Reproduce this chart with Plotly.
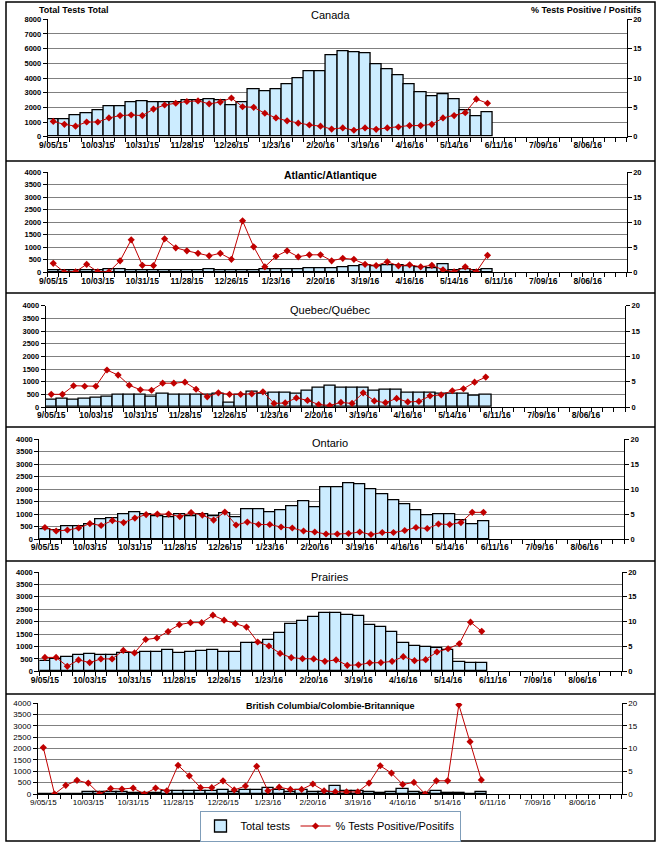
import plotly.graph_objects as go

W, H = 665, 848

weeks = ["9/05/15", "9/12/15", "9/19/15", "9/26/15", "10/03/15", "10/10/15", "10/17/15",
         "10/24/15", "10/31/15", "11/07/15", "11/14/15", "11/21/15", "11/28/15", "12/05/15",
         "12/12/15", "12/19/15", "12/26/15", "1/02/16", "1/09/16", "1/16/16", "1/23/16",
         "1/30/16", "2/06/16", "2/13/16", "2/20/16", "2/27/16", "3/05/16", "3/12/16",
         "3/19/16", "3/26/16", "4/02/16", "4/09/16", "4/16/16", "4/23/16", "4/30/16",
         "5/07/16", "5/14/16", "5/21/16", "5/28/16", "6/04/16", "6/11/16", "6/18/16",
         "6/25/16", "7/02/16", "7/09/16", "7/16/16", "7/23/16", "7/30/16", "8/06/16",
         "8/13/16", "8/20/16", "8/27/16"]
tick_labels = ["9/05/15", "10/03/15", "10/31/15", "11/28/15", "12/26/15", "1/23/16", "2/20/16",
               "3/19/16", "4/16/16", "5/14/16", "6/11/16", "7/09/16", "8/06/16"]

canada_tests = [1200, 1200, 1450, 1600, 1800, 2050, 2050, 2350, 2400, 2350, 2350, 2350, 2500, 2450,
                2550, 2500, 2150, 2350, 3200, 3100, 3250, 3600, 3950, 4450, 4450, 5550, 5800, 5750,
                5700, 4950, 4600, 4200, 3600, 3050, 2750, 2900, 2550, 1800, 1400, 1650]
canada_pct = [2.6, 2.1, 1.8, 2.5, 2.5, 3.2, 3.6, 3.7, 3.6, 4.7, 5.4, 5.7, 6.0, 6.1, 5.6, 5.9, 6.6,
              5.1, 5.0, 4.0, 3.2, 2.7, 2.3, 2.0, 1.8, 1.3, 1.5, 1.1, 1.5, 1.25, 1.5, 1.65, 1.9, 1.9,
              2.1, 3.2, 3.6, 4.1, 6.4, 5.7]

atlantic_tests = [90, 90, 80, 90, 90, 130, 130, 90, 90, 90, 90, 90, 90, 90, 130, 90, 90, 90, 90,
                  120, 120, 120, 120, 150, 170, 180, 200, 250, 290, 250, 290, 270, 250, 200, 160,
                  320, 90, 120, 90, 130]
atlantic_pct = [1.8, 0, 0.1, 1.6, 0.1, 0.1, 2.3, 6.5, 1.4, 1.35, 6.7, 4.9, 4.3, 3.8, 3.3, 3.8, 2.6,
                10.3, 5.1, 1.1, 3.2, 4.3, 3.1, 3.5, 3.5, 2.3, 2.8, 2.6, 1.6, 1.35, 2.1, 1.3, 1.5, 1.1,
                1.4, 0.5, 0.1, 1.1, 0.1, 3.4]

quebec_tests = [300, 340, 300, 340, 380, 420, 470, 470, 470, 420, 540, 470, 500, 500, 500, 530, 160,
                470, 600, 510, 560, 580, 540, 650, 770, 860, 780, 780, 780, 660, 700, 700, 580, 580,
                580, 540, 540, 510, 430, 490]
quebec_pct = [2.5, 2.5, 4.2, 4.1, 4.1, 7.3, 6.3, 4.3, 3.4, 3.3, 4.7, 4.7, 4.9, 3.5, 2.0, 2.8, 2.5,
              2.5, 2.6, 3.0, 0.7, 0.8, 1.8, 1.3, 0.5, 0.3, 0.9, 0.7, 2.8, 1.2, 0.85, 1.7, 1.0, 1.1,
              2.2, 2.4, 3.2, 3.6, 4.9, 5.9]

ontario_tests = [400, 350, 500, 500, 580, 800, 840, 990, 1070, 990, 910, 870, 980, 910, 980, 910,
                 1030, 870, 1190, 1190, 1070, 1160, 1310, 1510, 1270, 2070, 2070, 2230, 2190, 1990,
                 1790, 1550, 1390, 1150, 950, 990, 990, 750, 590, 710]
ontario_pct = [2.3, 1.6, 1.8, 2.2, 3.1, 2.7, 3.7, 3.3, 4.2, 4.9, 5.0, 5.0, 4.5, 5.3, 4.8, 3.8, 5.4,
               2.8, 3.4, 2.9, 2.9, 2.4, 2.2, 1.6, 1.4, 1.0, 1.0, 1.1, 1.4, 0.9, 1.3, 1.3, 1.7, 2.3,
               2.1, 3.0, 2.9, 3.3, 5.35, 5.35]

prairies_tests = [400, 480, 580, 640, 700, 640, 640, 740, 740, 780, 780, 850, 740, 780, 810, 850,
                  780, 780, 1140, 1140, 1250, 1540, 1890, 2010, 2170, 2340, 2340, 2270, 2210, 1870,
                  1770, 1570, 1140, 1010, 970, 940, 850, 380, 340, 340]
prairies_pct = [2.8, 2.8, 1.0, 2.3, 1.75, 2.5, 2.5, 4.2, 3.7, 6.4, 6.7, 8.0, 9.4, 9.8, 9.8, 11.3,
                10.3, 9.6, 8.9, 5.9, 5.1, 3.6, 2.75, 2.55, 2.5, 2.0, 2.3, 1.2, 1.3, 1.7, 1.75, 2.0,
                2.95, 2.15, 2.35, 3.9, 4.55, 5.55, 9.9, 8.05]

bc_tests = [20, 20, 20, 20, 70, 70, 70, 70, 30, 30, 40, 120, 120, 120, 120, 120, 175, 70, 160, 160,
            250, 175, 70, 175, 70, 70, 350, 150, 150, 100, 30, 70, 200, 70, 30, 120, 30, 30, 10, 70]
bc_pct = [10.2, 0, 1.9, 3.0, 2.4, 0, 1.2, 1.1, 1.3, 0, 1.3, 0.7, 6.3, 4.0, 1.4, 1.4, 2.9, 0.9, 1.75,
          6.1, 0.7, 1.5, 1.0, 1.0, 2.2, 0.7, 0.5, 0.45, 0.45, 2.4, 6.2, 4.6, 2.1, 2.55, 0, 2.9, 2.9,
          19.6, 11.5, 3.1]

regions = ["Canada", "Atlantic/Atlantique", "Quebec/Québec", "Ontario", "Prairies",
           "British Columbia/Colombie-Britannique"]
tests = [canada_tests, atlantic_tests, quebec_tests, ontario_tests, prairies_tests, bc_tests]
pcts = [canada_pct, atlantic_pct, quebec_pct, ontario_pct, prairies_pct, bc_pct]
left_max = [8000, 4000, 4000, 4000, 4000, 4000]
left_step = [1000, 500, 500, 500, 500, 500]

# plot-area boxes in pixels: (left, right, top, bottom)
boxes = [(47.7, 626.7, 19.3, 136.7),
         (47.7, 626.7, 172.3, 272.3),
         (45.7, 625.0, 305.7, 407.0),
         (39.3, 624.0, 439.3, 539.0),
         (39.3, 621.7, 572.0, 671.3),
         (37.7, 621.7, 703.0, 794.0)]
title_y = [15, 175, 310, 443, 577, 706]
title_style = [(11, "normal"), (10.5, "bold"), (11, "normal"), (11, "normal"), (11, "normal"), (9, "bold")]

FONT = "Liberation Sans, Arial, sans-serif"
BAR_FILL = "#CCECFF"
RED = "#C00000"

fig = go.Figure()
layout = dict(width=W, height=H,
              margin=dict(l=0, r=0, t=0, b=0, pad=0, autoexpand=False),
              paper_bgcolor="white", plot_bgcolor="white", bargap=0,
              font=dict(family=FONT, color="black"), showlegend=True)
annotations = []

xpos = list(range(len(weeks)))
label_pos = [weeks.index(t) for t in tick_labels]

for i in range(6):
    xn = "x" if i == 0 else f"x{i+1}"
    yl_n = "y" if i == 0 else f"y{2*i+1}"
    yr_n = f"y{2*i+2}"
    xkey = "xaxis" if i == 0 else f"xaxis{i+1}"
    ylkey = "yaxis" if i == 0 else f"yaxis{2*i+1}"
    yrkey = f"yaxis{2*i+2}"
    l, r, t, b = boxes[i]
    dom_x = [l / W, r / W]
    dom_y = [1 - b / H, 1 - t / H]
    is_bc = (i == 5)
    wt = "normal" if is_bc else "bold"
    ysz = 8 if is_bc else 7.5
    xsz = 8 if is_bc else 8.5

    n = len(tests[i])
    fig.add_trace(go.Bar(x=xpos[:n], y=tests[i], xaxis=xn, yaxis=yl_n,
                         marker=dict(color=BAR_FILL, line=dict(color="black", width=1.3)),
                         name="Total tests", legendgroup="tests", showlegend=(i == 0)))
    fig.add_trace(go.Scatter(x=xpos[:n], y=pcts[i], xaxis=xn, yaxis=yr_n, mode="lines+markers",
                             line=dict(color=RED, width=1),
                             marker=dict(symbol="diamond", size=5.5, color=RED),
                             name="% Tests Positive/Positifs", legendgroup="pct",
                             showlegend=(i == 0)))

    layout[xkey] = dict(domain=dom_x, anchor=yl_n, range=[-0.5, len(weeks) - 0.5],
                        tickmode="array", tickvals=label_pos, ticktext=tick_labels,
                        ticks="", showgrid=False, zeroline=False, automargin=False,
                        showline=True, linecolor="black", linewidth=1,
                        tickfont=dict(size=xsz, weight=wt, family=FONT),
                        minor=dict(tickmode="linear", tick0=0.5, dtick=1, ticks="outside",
                                   ticklen=4, tickcolor="black", tickwidth=1, showgrid=False))
    layout[ylkey] = dict(domain=dom_y, anchor=xn, range=[0, left_max[i]], dtick=left_step[i],
                         tick0=0, showgrid=True, gridcolor="#808080", gridwidth=1,
                         zeroline=False, showline=True, linecolor="black", linewidth=1,
                         ticks="outside", ticklen=4, tickcolor="black", automargin=False,
                         tickfont=dict(size=ysz, weight=wt, family=FONT))
    layout[yrkey] = dict(domain=dom_y, anchor=xn, overlaying=yl_n, side="right",
                         range=[0, 20], dtick=5, tick0=0, showgrid=False, zeroline=False,
                         showline=True, linecolor="black", linewidth=1, automargin=False,
                         ticks="outside", ticklen=4, tickcolor="black",
                         tickfont=dict(size=ysz, weight=wt, family=FONT))
    sz, w = title_style[i]
    annotations.append(dict(text=regions[i], xref="paper", yref="paper", x=330 / W,
                            y=1 - title_y[i] / H, xanchor="center", yanchor="middle",
                            showarrow=False, font=dict(size=sz, weight=w, family=FONT)))

annotations.append(dict(text="Total Tests Total", xref="paper", yref="paper", x=37 / W,
                        y=1 - 10 / H, xanchor="left", yanchor="middle", showarrow=False,
                        font=dict(size=9, weight="bold", family=FONT)))
annotations.append(dict(text="% Tests Positive / Positifs", xref="paper", yref="paper",
                        x=643 / W, y=1 - 10 / H, xanchor="right", yanchor="middle",
                        showarrow=False, font=dict(size=9, weight="bold", family=FONT)))
layout["annotations"] = annotations

shapes = [dict(type="rect", xref="paper", yref="paper", x0=6 / W, x1=655 / W,
               y0=1 - 841 / H, y1=1 - 2 / H, line=dict(color="black", width=1.5))]
for sy in [161, 293, 427, 561, 694]:
    shapes.append(dict(type="line", xref="paper", yref="paper", x0=6 / W, x1=655 / W,
                       y0=1 - sy / H, y1=1 - sy / H, line=dict(color="black", width=1.5)))
layout["shapes"] = shapes

layout["legend"] = dict(orientation="h", x=330 / W, xanchor="center", y=1 - 826 / H,
                        yanchor="middle", bordercolor="#7F9DB9", borderwidth=1,
                        bgcolor="white", font=dict(size=11, family=FONT), traceorder="normal")

fig.update_layout(**layout)
fig.write_html("out.html", config={"displayModeBar": False},
               post_script="document.body.style.margin='0';document.body.style.overflow='hidden';")
